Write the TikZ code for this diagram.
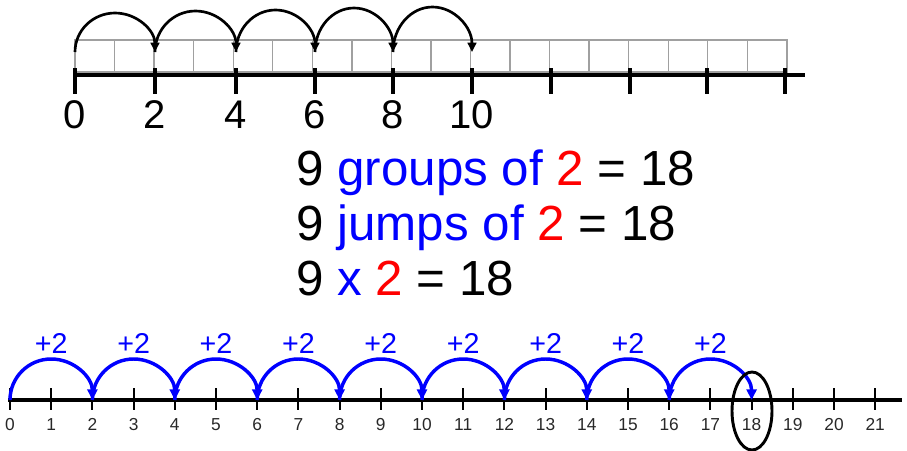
\documentclass[tikz,border=0pt]{standalone}
\usepackage{fontspec}
\setmainfont{Liberation Sans}
\usetikzlibrary{arrows.meta,calc,shapes.geometric}
\definecolor{pblue}{RGB}{0,0,255}
\definecolor{pred}{RGB}{255,0,0}
\definecolor{boxgray}{RGB}{160,160,160}
\definecolor{lblgray}{RGB}{40,40,40}
\begin{document}
\begin{tikzpicture}[x=0.75pt,y=-0.75pt,
  axis/.style={line width=2.4pt,black},
  bigtick/.style={line width=2.6pt,black},
  smalltick/.style={line width=1.5pt,black},
  cell/.style={draw=boxgray,line width=1pt},
  toplbl/.style={inner sep=0pt,anchor=base,font=\fontsize{30}{30}\selectfont},
  botlbl/.style={inner sep=0pt,anchor=base,text=lblgray,font=\fontsize{13}{13}\selectfont},
  steplbl/.style={inner sep=0pt,anchor=base,text=pblue,font=\fontsize{21.5}{21.5}\selectfont},
  eqline/.style={inner sep=0pt,anchor=base west,font=\fontsize{37}{37}\selectfont},
  hopblack/.style={line width=2pt,black,-{Triangle[length=7pt,width=6.5pt]}},
  hopblue/.style={line width=2.6pt,pblue,-{Triangle[length=8pt,width=7.5pt]}},
]
\useasboundingbox (0,0) rectangle (907,450);
% ---------- top number line ----------
\foreach \i in {0,...,17}{
  \draw[cell] ({75+\i*39.55},40) rectangle ({75+(\i+1)*39.55},72);
}
\coordinate (tl) at (73,75);
\coordinate (tr) at (805,75);
\draw[axis] (tl) -- (tr);
\foreach \i/\x in {0/75,1/155,2/236,3/315,4/393,5/472,6/551,7/630,8/707,9/785}{
  \coordinate (tt\i) at (\x,75);
  \draw[bigtick] (\x,68) -- (\x,94);
}
\foreach \i/\v in {0/0,1/2,2/4,3/6,4/8,5/10}{
  \node[toplbl] (tn\i) at ($(tt\i)+(0,53)$) {\v};
}
% top hops
\foreach \i/\x/\rx/\ry in {0/75/40/39,1/155/40.5/41,2/236/39.5/42,3/315/39/44,4/393/39.5/45}{
  \coordinate (ts\i) at (\x,52);
  \draw[hopblack] (ts\i) arc[start angle=180,end angle=360,x radius=\rx,y radius=\ry];
}
% ---------- equations ----------
\node[eqline] (eq1) at (296,185) {9 \textcolor{pblue}{groups of} \textcolor{pred}{2} = 18};
\node[eqline] (eq2) at (296,240) {9 \textcolor{pblue}{jumps of} \textcolor{pred}{2} = 18};
\node[eqline] (eq3) at (296,295) {9 \textcolor{pblue}{x} \textcolor{pred}{2} = 18};
% ---------- bottom number line ----------
\coordinate (bl) at (8,400);
\coordinate (br) at (902,400);
\draw[axis] (bl) -- (br);
\foreach \n in {0,...,21}{
  \coordinate (b\n) at ({10+41.2*\n},400);
  \draw[smalltick] ({10+41.2*\n},388) -- ({10+41.2*\n},410);
  \node[botlbl] (bn\n) at ({10+41.2*\n},430) {\n};
}
\foreach \k in {0,...,8}{
  \pgfmathtruncatemacro{\s}{2*\k}
  \draw[hopblue] (b\s) arc[start angle=180,end angle=360,x radius=41.2,y radius=41];
  \node[steplbl] (p\k) at ({10+41.2*(\s+1)},353) {+2};
}
\node[draw=black,line width=2.2pt,ellipse,minimum width=30pt,minimum height=58.5pt,inner sep=0pt] (ring) at (752,411) {};
\end{tikzpicture}
\end{document}
